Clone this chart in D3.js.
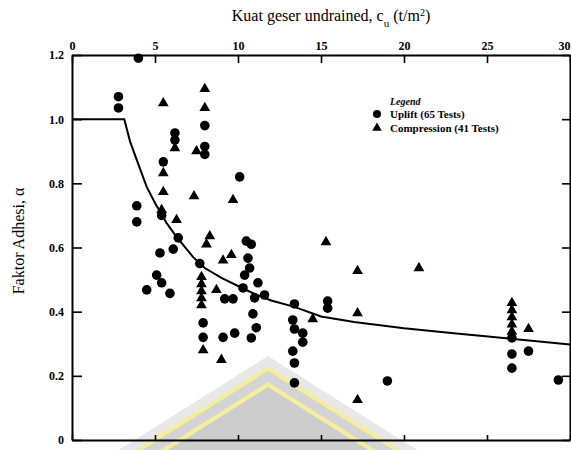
<!DOCTYPE html>
<html>
<head>
<meta charset="utf-8">
<script src="https://cdn.jsdelivr.net/npm/d3@7"></script>
<style>
  html, body { margin: 0; padding: 0; background: #fff; }
  svg { display: block; }
  text { font-family: "Liberation Serif", "DejaVu Serif", serif; fill: #000; }
</style>
</head>
<body>
<svg id="chart" width="571" height="450"></svg>
<script>
// ---- data ----
const xTicks = [0, 5, 10, 15, 20, 25, 30];
const yTicks = [0, 0.2, 0.4, 0.6, 0.8, 1.0, 1.2];

// Uplift tests (circles): cu (t/m2), alpha
const upliftCu = [4.0, 2.8, 2.8, 8.0, 8.0, 8.0, 6.2, 6.2, 5.5, 3.9, 3.9, 10.1, 5.4, 6.4, 6.1, 5.3, 7.7, 5.1, 5.4, 4.5, 5.9, 7.9, 7.9, 9.2, 9.7, 9.1, 9.8, 10.5, 10.8, 10.6, 10.7, 10.4, 11.2, 10.3, 11.6, 11.0, 10.9, 11.1, 10.8, 13.4, 13.3, 13.4, 13.9, 13.9, 13.3, 13.4, 13.4, 15.4, 15.4, 19.0, 26.5, 26.5, 26.5, 27.5, 29.3];
const upliftAlpha = [1.19, 1.07, 1.035, 0.98, 0.915, 0.89, 0.957, 0.935, 0.867, 0.73, 0.68, 0.82, 0.70, 0.63, 0.595, 0.583, 0.55, 0.514, 0.49, 0.468, 0.457, 0.365, 0.32, 0.44, 0.44, 0.32, 0.333, 0.62, 0.61, 0.567, 0.536, 0.514, 0.49, 0.474, 0.452, 0.443, 0.393, 0.35, 0.318, 0.424, 0.374, 0.346, 0.333, 0.305, 0.277, 0.24, 0.178, 0.433, 0.411, 0.184, 0.318, 0.268, 0.224, 0.277, 0.187];

// Compression tests (triangles)
const compCu = [5.5, 8.0, 8.0, 7.5, 6.2, 5.5, 5.5, 5.4, 6.3, 7.35, 9.7, 8.3, 8.1, 9.1, 9.6, 7.8, 7.8, 7.8, 7.8, 7.8, 7.9, 8.7, 9.0, 14.5, 15.3, 17.2, 20.9, 17.2, 17.2, 26.5, 26.5, 26.5, 26.5, 26.5, 27.5];
const compAlpha = [1.05, 1.094, 1.035, 0.90, 0.91, 0.832, 0.773, 0.717, 0.686, 0.76, 0.748, 0.635, 0.61, 0.56, 0.577, 0.508, 0.486, 0.464, 0.442, 0.42, 0.28, 0.468, 0.25, 0.377, 0.617, 0.527, 0.536, 0.395, 0.125, 0.427, 0.405, 0.383, 0.36, 0.338, 0.346];

// Design curve
const curveCu = [0, 3.15, 3.5, 3.9, 4.5, 5.0, 5.7, 6.3, 7.3, 8.0, 9.0, 10.0, 11.0, 12.0, 13.4, 15.0, 17.0, 20.0, 23.0, 26.0, 28.0, 30.0];
const curveAlpha = [1.0, 1.0, 0.93, 0.873, 0.789, 0.739, 0.676, 0.633, 0.57, 0.536, 0.505, 0.48, 0.455, 0.435, 0.415, 0.385, 0.368, 0.348, 0.333, 0.318, 0.308, 0.298];

const legendLabels = ["Uplift (65 Tests)", "Compression (41 Tests)"];

// ---- drawing ----
const svg = d3.select("#chart");
const L = 72, R = 570, T = 55, B = 440;
const x = d3.scaleLinear().domain([0, 30]).range([L, R]);
const y = d3.scaleLinear().domain([0, 1.2]).range([B, T]);

// background watermark (decorative)
const wm = svg.append("g");
const apexX = 268, slope = 0.63, baseY = 452;
const layers = [[356, "#e8e8e8"], [366, "#f2ee9e"], [371, "#d4d4d4"], [382, "#f2ee9e"], [387, "#cdcdcd"]];
layers.forEach(([ay, col]) => {
  const hw = (baseY - ay) / slope;
  wm.append("polygon")
    .attr("points", `${apexX},${ay} ${apexX - hw},${baseY} ${apexX + hw},${baseY}`)
    .attr("fill", col);
});

// axes
const fmtY = d => d === 0 ? "0" : d3.format(".1f")(d);

const gTop = svg.append("g").attr("transform", `translate(0,${T})`)
  .call(d3.axisTop(x).tickValues(xTicks).tickSize(-8).tickSizeOuter(0).tickPadding(5));
gTop.selectAll(".tick text").filter(d => d === 30).attr("text-anchor", "end").attr("dx", "0");
const gLeft = svg.append("g").attr("transform", `translate(${L},0)`)
  .call(d3.axisLeft(y).tickValues(yTicks).tickSize(-10).tickSizeOuter(0).tickPadding(8).tickFormat(fmtY));
const gRight = svg.append("g").attr("transform", `translate(${R},0)`)
  .call(d3.axisRight(y).tickValues(yTicks).tickSize(-8).tickSizeOuter(0).tickFormat(""));
const gBottom = svg.append("g").attr("transform", `translate(0,${B})`)
  .call(d3.axisBottom(x).tickValues(xTicks).tickSize(-5).tickSizeOuter(0).tickFormat(""));

[gTop, gLeft, gRight, gBottom].forEach(g => {
  g.selectAll("path.domain").attr("stroke", "#000").attr("stroke-width", 2);
  g.selectAll(".tick line").attr("stroke", "#000").attr("stroke-width", 1.6);
  g.selectAll(".tick text").attr("fill", "#000")
    .style("font-family", "'Liberation Serif', serif")
    .style("font-weight", "bold").style("font-size", "12px");
});

// curve
const curveData = curveCu.map((c, i) => [c, curveAlpha[i]]);
svg.append("path")
  .datum(curveData)
  .attr("fill", "none").attr("stroke", "#000").attr("stroke-width", 2)
  .attr("d", d3.line().x(d => x(d[0])).y(d => y(d[1])).curve(d3.curveLinear));

// points
const uplift = upliftCu.map((c, i) => [c, upliftAlpha[i]]);
const comp = compCu.map((c, i) => [c, compAlpha[i]]);

svg.append("g").selectAll("circle").data(uplift).join("circle")
  .attr("cx", d => x(d[0])).attr("cy", d => y(d[1])).attr("r", 4.8).attr("fill", "#000");

const tri = d3.symbol().type(d3.symbolTriangle).size(50);
svg.append("g").selectAll("path").data(comp).join("path")
  .attr("d", tri).attr("transform", d => `translate(${x(d[0])},${y(d[1])})`).attr("fill", "#000");

// legend
const lg = svg.append("g").attr("transform", "translate(377,0)");
lg.append("text").attr("x", 13).attr("y", 105).text("Legend")
  .style("font-style", "italic").style("font-weight", "bold").style("font-size", "10px");
lg.append("circle").attr("cx", 0).attr("cy", 114).attr("r", 4).attr("fill", "#000");
lg.append("path").attr("d", d3.symbol().type(d3.symbolTriangle).size(40))
  .attr("transform", "translate(0,128)").attr("fill", "#000");
legendLabels.forEach((t, i) => {
  lg.append("text").attr("x", 13).attr("y", 118 + i * 14).text(t)
    .style("font-weight", "bold").style("font-size", "11px");
});

// titles
const title = svg.append("text").attr("x", 331).attr("y", 21).attr("text-anchor", "middle")
  .style("font-size", "16px");
title.append("tspan").text("Kuat geser undrained, c");
title.append("tspan").attr("baseline-shift", "sub").style("font-size", "11px").text("u");
title.append("tspan").text(" (t/m");
title.append("tspan").attr("baseline-shift", "super").style("font-size", "10px").text("2");
title.append("tspan").text(")");

svg.append("text").attr("transform", "translate(24,241) rotate(-90)")
  .attr("text-anchor", "middle").style("font-size", "16px").text("Faktor Adhesi, α");
</script>
</body>
</html>
